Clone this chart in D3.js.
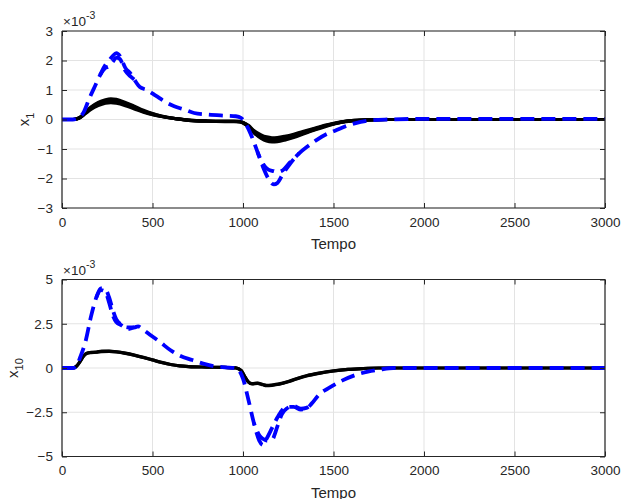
<!DOCTYPE html>
<html>
<head>
<meta charset="utf-8">
<script src="https://cdn.jsdelivr.net/npm/d3@7"></script>
<style>
  body { margin: 0; background: #fff; }
  svg { display: block; font-family: "Liberation Sans", Arial, sans-serif; }
</style>
</head>
<body>
<div id="chart"></div>
<script>
// x1 panel: black (several close curves) and blue dashed (two curves), values in 1e-3
const topBlackT = [0,60,80,100,130,160,200,240,270,300,350,400,450,500,550,600,650,700,800,900,950,980,1000,1030,1060,1100,1130,1160,1190,1230,1280,1330,1400,1450,1500,1550,1600,1700,1800,2000,3000];
const topBlack1 = [0,0,0.02,0.08,0.25,0.42,0.58,0.67,0.70,0.68,0.58,0.45,0.31,0.20,0.12,0.06,0.01,-0.03,-0.06,-0.07,-0.07,-0.08,-0.12,-0.25,-0.45,-0.64,-0.73,-0.76,-0.75,-0.70,-0.61,-0.50,-0.35,-0.25,-0.16,-0.09,-0.05,-0.01,0,0,0];
const topBlack2 = [0,0,0.02,0.07,0.23,0.40,0.55,0.63,0.66,0.64,0.55,0.42,0.29,0.19,0.11,0.05,0.01,-0.03,-0.05,-0.06,-0.06,-0.07,-0.11,-0.24,-0.43,-0.61,-0.69,-0.72,-0.71,-0.66,-0.58,-0.47,-0.33,-0.23,-0.15,-0.08,-0.04,-0.01,0,0,0];
const topBlack3 = [0,0,0.02,0.07,0.22,0.37,0.51,0.59,0.62,0.60,0.51,0.39,0.27,0.17,0.10,0.05,0.01,-0.02,-0.05,-0.06,-0.06,-0.07,-0.10,-0.22,-0.40,-0.56,-0.64,-0.67,-0.66,-0.61,-0.54,-0.44,-0.31,-0.21,-0.14,-0.08,-0.04,-0.01,0,0,0];
const topBlack4 = [0,0,0.02,0.06,0.20,0.34,0.47,0.55,0.57,0.55,0.47,0.36,0.25,0.16,0.10,0.05,0.01,-0.02,-0.05,-0.06,-0.06,-0.06,-0.10,-0.20,-0.37,-0.52,-0.59,-0.62,-0.61,-0.57,-0.50,-0.41,-0.29,-0.20,-0.13,-0.07,-0.04,-0.01,0,0,0];

const topBlueT = [0,60,90,120,150,180,210,240,260,280,300,320,350,380,400,430,470,520,570,620,680,730,800,900,960,990,1020,1050,1080,1110,1140,1170,1190,1220,1260,1310,1360,1410,1460,1500,1550,1600,1650,1700,1800,2000,3000];
const topBlueA = [0,0,0.05,0.25,0.7,1.1,1.5,1.85,2.0,2.15,2.25,2.15,1.75,1.55,1.35,1.1,1.0,0.8,0.6,0.45,0.33,0.22,0.17,0.13,0.11,0.05,-0.2,-0.6,-1.1,-1.6,-2.0,-2.2,-2.15,-1.85,-1.5,-1.15,-0.9,-0.68,-0.5,-0.4,-0.27,-0.16,-0.08,-0.03,0,0.02,0.02];
const topBlueB = [0,0,0.05,0.25,0.7,1.1,1.5,1.75,1.8,1.95,2.1,2.05,1.65,1.45,1.35,1.1,1.0,0.8,0.6,0.45,0.33,0.22,0.17,0.13,0.11,0.05,-0.2,-0.6,-1.1,-1.5,-1.7,-1.75,-1.78,-1.72,-1.45,-1.15,-0.9,-0.68,-0.5,-0.4,-0.27,-0.16,-0.08,-0.03,0,0.02,0.02];

// x10 panel
const botBlackT = [0,60,80,100,120,140,160,190,220,260,300,350,400,450,500,550,600,650,700,800,900,960,990,1010,1030,1050,1080,1110,1130,1160,1200,1250,1300,1350,1420,1500,1580,1660,1750,3000];
const botBlack1 = [0,0,0.1,0.38,0.7,0.85,0.88,0.9,0.95,0.95,0.92,0.84,0.73,0.6,0.46,0.32,0.2,0.12,0.08,0.05,0.03,0.01,-0.15,-0.5,-0.8,-0.9,-0.87,-0.95,-1.0,-0.98,-0.92,-0.78,-0.6,-0.45,-0.3,-0.17,-0.08,-0.03,0,0];
const botBlack2 = [0,0,0.1,0.36,0.68,0.83,0.87,0.89,0.93,0.94,0.91,0.83,0.72,0.59,0.45,0.31,0.2,0.12,0.08,0.05,0.03,0.01,-0.14,-0.48,-0.78,-0.88,-0.86,-0.93,-0.98,-0.96,-0.9,-0.76,-0.59,-0.44,-0.29,-0.16,-0.08,-0.03,0,0];

const botBlueT = [0,60,80,100,130,160,190,215,240,260,280,300,330,360,400,420,450,490,540,600,650,720,780,840,900,960,1000,1030,1060,1090,1110,1130,1160,1190,1215,1240,1280,1320,1350,1380,1420,1480,1550,1620,1690,1760,1830,3000];
const botBlueA = [0,0,0.1,0.6,1.5,2.9,4.0,4.5,4.45,4.0,3.3,2.75,2.45,2.3,2.3,2.35,2.15,1.85,1.48,1.0,0.7,0.45,0.25,0.1,0.04,0,-0.6,-1.8,-3.1,-4.1,-4.35,-4.0,-3.4,-2.8,-2.4,-2.2,-2.2,-2.35,-2.3,-2.0,-1.5,-1.1,-0.7,-0.4,-0.2,-0.08,0,0];
const botBlueB = [0,0,0.1,0.6,1.5,2.9,4.0,4.4,4.3,3.7,3.0,2.6,2.4,2.2,2.3,2.35,2.15,1.85,1.48,1.0,0.7,0.45,0.25,0.1,0.04,0,-0.6,-1.8,-3.1,-3.8,-4.0,-4.1,-4.05,-3.3,-2.6,-2.3,-2.15,-2.3,-2.25,-2.0,-1.5,-1.1,-0.7,-0.4,-0.2,-0.08,0,0];

const xTicks = [0,500,1000,1500,2000,2500,3000];
const topYTicks = [-3,-2,-1,0,1,2,3];
const botYTicks = [-5,-2.5,0,2.5,5];

const W = 623, H = 499;
const svg = d3.select("#chart").append("svg").attr("width", W).attr("height", H);

const zip = (t, v) => t.map((d, i) => [d, v[i]]);
const DASH = "14,7";

function panel(cfg) {
  const x = d3.scaleLinear().domain([0, 3000]).range([62, 605]);
  const y = d3.scaleLinear().domain(cfg.yDomain).range([cfg.bottom, cfg.top]);
  const g = svg.append("g");

  // grid
  g.selectAll(".gx").data(xTicks).join("line")
    .attr("x1", d => x(d)).attr("x2", d => x(d))
    .attr("y1", cfg.top).attr("y2", cfg.bottom)
    .attr("stroke", "#e3e3e3").attr("stroke-width", 1);
  g.selectAll(".gy").data(cfg.yTicks).join("line")
    .attr("x1", 62).attr("x2", 605)
    .attr("y1", d => y(d)).attr("y2", d => y(d))
    .attr("stroke", "#e3e3e3").attr("stroke-width", 1);

  const clip = "clip" + cfg.id;
  g.append("clipPath").attr("id", clip).append("rect")
    .attr("x", 62).attr("y", cfg.top).attr("width", 543).attr("height", cfg.bottom - cfg.top);

  const line = d3.line().x(d => x(d[0])).y(d => y(d[1])).curve(d3.curveMonotoneX);
  const lines = g.append("g").attr("clip-path", `url(#${clip})`);
  cfg.black.forEach(s => lines.append("path").attr("d", line(s))
    .attr("fill", "none").attr("stroke", "#000").attr("stroke-width", 3.2));

  // blue A in full; blue B only where it leaves A, with its dashes kept in phase with A
  const [t, a, b] = cfg.blue;
  const ptsA = zip(t, a);
  lines.append("path").attr("d", line(ptsA))
    .attr("fill", "none").attr("stroke", "#0000ff").attr("stroke-width", 3.8)
    .attr("stroke-dasharray", DASH);
  const ranges = [];
  let i = 0;
  while (i < t.length) {
    if (a[i] !== b[i]) {
      let j = i;
      while (j < t.length && a[j] !== b[j]) j++;
      ranges.push([Math.max(0, i - 1), Math.min(t.length - 1, j)]);
      i = j;
    } else i++;
  }
  ranges.forEach(([i0, i1]) => {
    const tmp = svg.append("path").attr("d", line(ptsA.slice(0, i0 + 1)));
    const offset = i0 > 0 ? tmp.node().getTotalLength() : 0;
    tmp.remove();
    lines.append("path").attr("d", line(zip(t, b).slice(i0, i1 + 1)))
      .attr("fill", "none").attr("stroke", "#0000ff").attr("stroke-width", 3.8)
      .attr("stroke-dasharray", DASH).attr("stroke-dashoffset", offset);
  });

  // axes (ticks inside, box on)
  const axB = g.append("g").attr("transform", `translate(0,${cfg.bottom})`)
    .call(d3.axisBottom(x).tickValues(xTicks).tickSize(-5).tickPadding(9).tickFormat(d3.format("d")));
  const axT = g.append("g").attr("transform", `translate(0,${cfg.top})`)
    .call(d3.axisTop(x).tickValues(xTicks).tickSize(-5).tickFormat(""));
  const axL = g.append("g").attr("transform", "translate(62,0)")
    .call(d3.axisLeft(y).tickValues(cfg.yTicks).tickSize(-5).tickPadding(9).tickFormat(d => d3.format("")(d)));
  const axR = g.append("g").attr("transform", "translate(605,0)")
    .call(d3.axisRight(y).tickValues(cfg.yTicks).tickSize(-5).tickFormat(""));
  [axB, axT, axL, axR].forEach(ax => {
    ax.select(".domain").attr("stroke", "#262626").attr("stroke-width", 1.2);
    ax.selectAll(".tick line").attr("stroke", "#262626");
    ax.selectAll("text").attr("fill", "#262626").style("font-size", "13.5px")
      .style("font-family", "'Liberation Sans', Arial, sans-serif");
  });
  axL.selectAll(".domain").attr("d", `M0,${cfg.top}V${cfg.bottom}`);
  axR.selectAll(".domain").attr("d", `M0,${cfg.top}V${cfg.bottom}`);
  axB.selectAll(".domain").attr("d", "M62,0H605");
  axT.selectAll(".domain").attr("d", "M62,0H605");

  // exponent
  const ex = g.append("text").attr("x", 63).attr("y", cfg.top - 5)
    .attr("fill", "#262626").style("font-size", "13.5px");
  ex.append("tspan").text("×10");
  ex.append("tspan").attr("dy", -7).style("font-size", "10.5px").text("-3");

  // x label
  g.append("text").attr("x", 333.5).attr("y", cfg.bottom + 41)
    .attr("text-anchor", "middle").attr("fill", "#262626").style("font-size", "15px").text("Tempo");

  // y label
  const yl = g.append("text")
    .attr("transform", `translate(${cfg.ylabelX},${(cfg.top + cfg.bottom) / 2}) rotate(-90)`)
    .attr("text-anchor", "middle").attr("fill", "#262626").style("font-size", "15px");
  yl.append("tspan").text("x");
  yl.append("tspan").attr("dy", 5).style("font-size", "11px").text(cfg.sub);
}

panel({
  id: 1, top: 31, bottom: 208, yDomain: [-3, 3], yTicks: topYTicks, sub: "1", ylabelX: 29,
  black: [zip(topBlackT, topBlack1), zip(topBlackT, topBlack2), zip(topBlackT, topBlack3), zip(topBlackT, topBlack4)],
  blue: [topBlueT, topBlueA, topBlueB]
});
panel({
  id: 2, top: 279.5, bottom: 456.5, yDomain: [-5, 5], yTicks: botYTicks, sub: "10", ylabelX: 18,
  black: [zip(botBlackT, botBlack1), zip(botBlackT, botBlack2)],
  blue: [botBlueT, botBlueA, botBlueB]
});
</script>
</body>
</html>
